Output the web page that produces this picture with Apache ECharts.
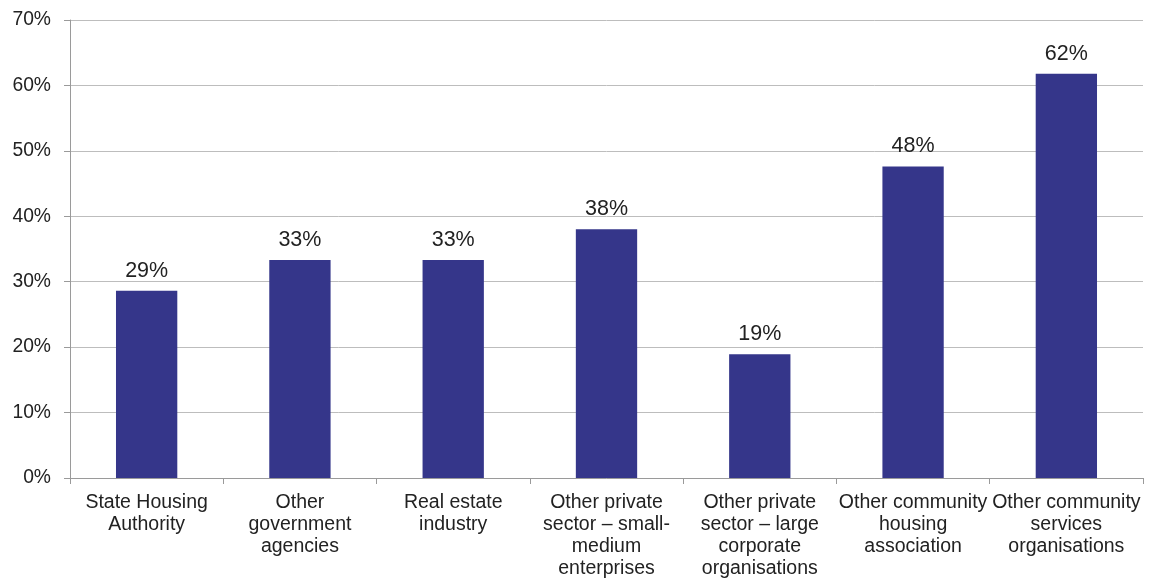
<!DOCTYPE html>
<html>
<head>
<meta charset="utf-8">
<script src="https://cdn.jsdelivr.net/npm/echarts@6/dist/echarts.min.js"></script>
<style>
  html, body { margin: 0; padding: 0; background: #fff; }
  #chart { width: 1149px; height: 584px; }
</style>
</head>
<body>
<div id="chart"></div>
<script>
// Respondent groups (line breaks as shown under each bar)
const categories = [
  'State Housing\nAuthority',
  'Other\ngovernment\nagencies',
  'Real estate\nindustry',
  'Other private\nsector \u2013 small-\nmedium\nenterprises',
  'Other private\nsector \u2013 large\ncorporate\norganisations',
  'Other community\nhousing\nassociation',
  'Other community\nservices\norganisations'
];

// Share of respondents, in percent
const shares = [28.6, 33.3, 33.3, 38.0, 18.9, 47.6, 61.8];

// Value axis ticks, in percent
const yTicks = [0, 10, 20, 30, 40, 50, 60, 70];

const chart = echarts.init(document.getElementById('chart'));
const font = "'Liberation Sans', Arial, sans-serif";

chart.setOption({
  animation: false,
  grid: { left: 70, right: 6, top: 20, bottom: 106, containLabel: false },
  xAxis: {
    type: 'category',
    data: categories,
    axisLine: { lineStyle: { color: '#9a9a9a', width: 1 } },
    axisTick: { show: true, alignWithLabel: false, length: 6, lineStyle: { color: '#9a9a9a' } },
    axisLabel: {
      interval: 0,
      color: '#222',
      fontFamily: font,
      fontSize: 19.5,
      lineHeight: 22.3,
      margin: 13
    }
  },
  yAxis: {
    type: 'value',
    min: yTicks[0],
    max: yTicks[yTicks.length - 1],
    interval: 10,
    axisLine: { show: true, lineStyle: { color: '#9a9a9a', width: 1 } },
    axisTick: { show: true, length: 6, lineStyle: { color: '#9a9a9a' } },
    splitLine: { lineStyle: { color: '#bdbdbd', width: 1 } },
    axisLabel: {
      color: '#222',
      fontFamily: font,
      fontSize: 19.3,
      margin: 19,
      formatter: v => v + '%'
    }
  },
  series: [{
    type: 'bar',
    data: shares,
    barWidth: '40%',
    itemStyle: { color: '#35368a' },
    label: {
      show: true,
      position: 'top',
      distance: 9,
      color: '#222',
      fontFamily: font,
      fontSize: 21.5,
      formatter: p => Math.round(p.value) + '%'
    }
  }]
});
</script>
</body>
</html>
